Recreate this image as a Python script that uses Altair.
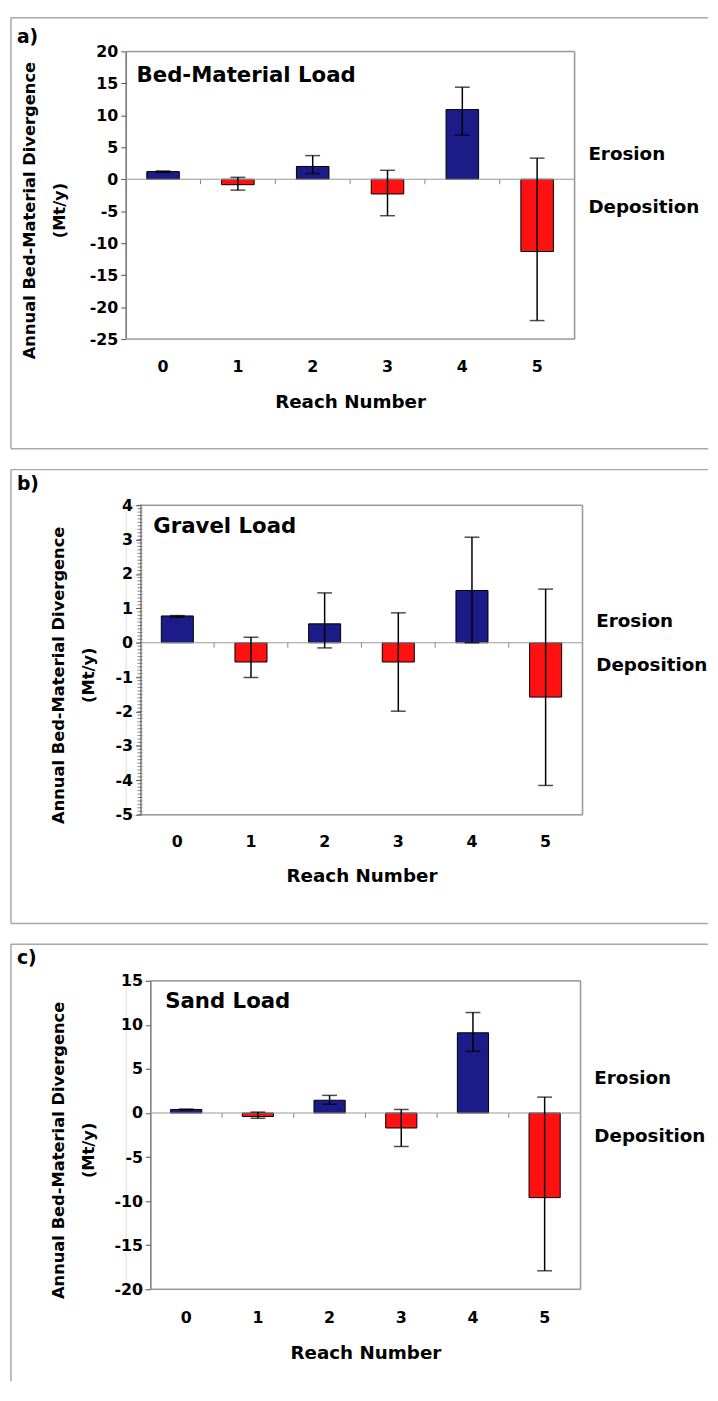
import altair as alt
import pandas as pd
import numpy as np

reaches = ["0", "1", "2", "3", "4", "5"]

bed_values = [1.2, -0.85, 2.0, -2.3, 10.9, -11.3]
bed_lower = [1.05, -1.7, 0.9, -5.7, 6.9, -22.1]
bed_upper = [1.3, 0.3, 3.7, 1.4, 14.4, 3.3]

gravel_values = [0.78, -0.56, 0.55, -0.56, 1.52, -1.58]
gravel_lower = [0.74, -1.01, -0.15, -1.99, 0.0, -4.15]
gravel_upper = [0.79, 0.16, 1.45, 0.87, 3.07, 1.56]

sand_values = [0.4, -0.4, 1.45, -1.7, 9.1, -9.6]
sand_lower = [0.35, -0.6, 1.0, -3.8, 7.0, -17.9]
sand_upper = [0.45, 0.1, 2.0, 0.4, 11.4, 1.8]

bed_ticks = [-25, -20, -15, -10, -5, 0, 5, 10, 15, 20]
gravel_ticks = [-5, -4, -3, -2, -1, 0, 1, 2, 3, 4]
sand_ticks = [-20, -15, -10, -5, 0, 5, 10, 15]

side_labels = ["Erosion", "Deposition"]
y_title = ["Annual Bed-Material Divergence", "(Mt/y)"]

BLUE = "#1c1c88"
RED = "#ff1111"
FRAME = "#a8a8a8"
BORDER = "#9c9c9c"
FONT = "DejaVu Sans"

FL, FR = -116, 589   # outer frame, relative to the common plot origin
LABEL_EXPR = "datum.value < 0 ? '-' + format(-datum.value, 'd') : format(datum.value, 'd')"


def one(text):
    return pd.DataFrame({"t": [text]})


def panel(values, lower, upper, ydom, yticks, off, W, H, name, letter,
          ftop, fbot, draw_bottom, letter_y, name_xy, side_y, title_x,
          lab_pad, tit_pad, minor=None):
    df = pd.DataFrame({
        "reach": reaches, "value": values, "lower": lower, "upper": upper,
        "sign": ["pos" if v >= 0 else "neg" for v in values],
    })
    step = W / len(reaches)
    xaxis = alt.Axis(title="Reach Number", labelAngle=0, domain=False, ticks=False,
                     labelPadding=lab_pad, titlePadding=tit_pad, labelFontSize=16,
                     labelFontWeight="bold", labelColor="black", titleFontSize=18.5,
                     titleFontWeight="bold", titleColor="black", labelFont=FONT,
                     titleFont=FONT)
    xscale = alt.Scale(range=[off, off + W], paddingInner=0.565, paddingOuter=0.2825)
    yaxis = alt.Axis(values=yticks, tickCount=20, title=y_title, grid=False,
                     labelExpr=LABEL_EXPR,
                     domainColor="#555555", domainWidth=1.2, offset=-off,
                     tickColor="#555555", tickSize=5, labelFontSize=16, labelFontWeight="bold",
                     labelColor="black", labelPadding=3, labelOverlap=False,
                     titleFontSize=16.5, titleFontWeight="bold", titleColor="black",
                     titleLineHeight=30, titleX=title_x, titleY=H / 2 + 15,
                     labelFont=FONT, titleFont=FONT)
    yscale = alt.Scale(domain=ydom, nice=False, zero=False)

    def X():
        return alt.X("reach:O", sort=reaches, scale=xscale, axis=xaxis)

    def Y(f):
        return alt.Y(f, scale=yscale, axis=yaxis)

    base = alt.Chart(df)
    bars = base.mark_bar(stroke="black", strokeWidth=1).encode(
        x=X(), y=Y("value:Q"), y2="zero:Q",
        color=alt.Color("sign:N", scale=alt.Scale(domain=["pos", "neg"], range=[BLUE, RED]),
                        legend=None),
    ).transform_calculate(zero="0")
    zero = alt.Chart(pd.DataFrame({"value": [0]})).mark_rule(
        color="#9a9a9a", strokeWidth=1.2).encode(
        y=Y("value:Q"), x=alt.value(off), x2=alt.value(off + W))
    bdf = pd.DataFrame({"reach": reaches[1:], "value": [0] * 5})
    bticks = alt.Chart(bdf).mark_rule(color="#888888", strokeWidth=1,
                                      xOffset=-step / 2, y2Offset=5).encode(
        x=X(), y=Y("value:Q"), y2="value:Q")
    err = base.mark_rule(color="black", strokeWidth=1.5).encode(
        x=X(), y=Y("lower:Q"), y2="upper:Q")
    cap_lo = base.mark_tick(color="black", thickness=1.5, size=15).encode(
        x=X(), y=Y("lower:Q"))
    cap_hi = base.mark_tick(color="black", thickness=1.5, size=15).encode(
        x=X(), y=Y("upper:Q"))

    # plot-area border (top, right, bottom); the left side is the y axis line
    border = [
        alt.Chart(one("")).mark_rule(color=BORDER, strokeWidth=1.5).encode(
            x=alt.value(off), x2=alt.value(off + W), y=alt.value(0)),
        alt.Chart(one("")).mark_rule(color=BORDER, strokeWidth=1.5).encode(
            x=alt.value(off), x2=alt.value(off + W), y=alt.value(H)),
        alt.Chart(one("")).mark_rule(color=BORDER, strokeWidth=1.5).encode(
            x=alt.value(off + W), y=alt.value(0), y2=alt.value(H)),
    ]

    layers = [bars, zero, bticks, err, cap_lo, cap_hi] + border

    if minor is not None:
        mdf = pd.DataFrame({"value": minor})
        layers.append(alt.Chart(mdf).mark_rule(color="#666666", strokeWidth=0.8).encode(
            y=Y("value:Q"), x=alt.value(off - 3), x2=alt.value(off + 2)))

    layers.append(alt.Chart(one("")).mark_rule(color=FRAME, strokeWidth=1.5).encode(
        x=alt.value(FL), x2=alt.value(FR), y=alt.value(ftop)))
    layers.append(alt.Chart(one("")).mark_rule(color=FRAME, strokeWidth=1.5).encode(
        x=alt.value(FL), y=alt.value(ftop), y2=alt.value(fbot)))
    if draw_bottom:
        layers.append(alt.Chart(one("")).mark_rule(color=FRAME, strokeWidth=1.5).encode(
            x=alt.value(FL), x2=alt.value(FR), y=alt.value(fbot)))

    layers.append(alt.Chart(one(letter)).mark_text(
        align="left", baseline="middle", fontSize=19, fontWeight="bold", font=FONT,
        color="black").encode(x=alt.value(FL + 6), y=alt.value(letter_y), text="t:N"))
    layers.append(alt.Chart(one(name)).mark_text(
        align="left", baseline="middle", fontSize=21.5, fontWeight="bold", font=FONT,
        color="black").encode(x=alt.value(off + name_xy[0]), y=alt.value(name_xy[1]),
                              text="t:N"))
    for lab, yy in zip(side_labels, side_y):
        layers.append(alt.Chart(one(lab)).mark_text(
            align="left", baseline="middle", fontSize=18.5, fontWeight="bold", font=FONT,
            color="black").encode(x=alt.value(off + W + 14), y=alt.value(yy), text="t:N"))

    return alt.layer(*layers).properties(width=off + W, height=H)


pa = panel(bed_values, bed_lower, bed_upper, [-25, 20], bed_ticks, 0, 454, 291,
           "Bed-Material Load", "a)", -34, 402, True, -14, (11, 25),
           (104, 157), -89, 20, 18)
pb = panel(gravel_values, gravel_lower, gravel_upper, [-5, 4], gravel_ticks, 15, 447, 313,
           "Gravel Load", "b)", -36, 423, True, -21, (13, 22),
           (117, 162), -75, 19, 18,
           minor=[round(v, 1) for v in np.arange(-5, 4.001, 0.1)])
pc = panel(sand_values, sand_lower, sand_upper, [-20, 15], sand_ticks, 25, 435, 312,
           "Sand Load", "c)", -37, 405, False, -23, (15, 22),
           (98, 157), -85, 21, 18)

chart = alt.vconcat(pa, pb, pc, spacing=17).properties(
    padding={"left": 1, "top": 0, "right": 0, "bottom": 0}
).configure_view(strokeWidth=0, stroke=None).configure_axis(labelOverlap=False).configure(
    font=FONT)

chart.save("out.html", embed_options={"renderer": "svg", "actions": False})
